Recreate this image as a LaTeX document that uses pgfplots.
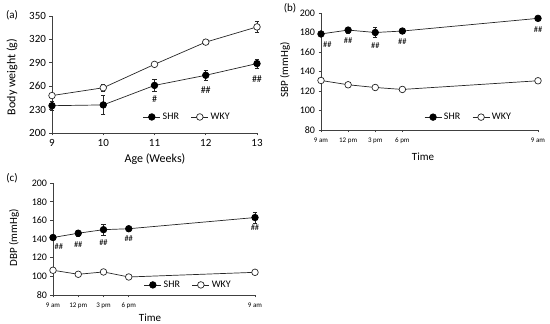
\documentclass[border=0pt]{standalone}
\usepackage{pgfplots}
\pgfplotsset{compat=1.18}
\usepackage{fontspec}
\setmainfont{Carlito}
\pgfplotsset{
  common/.style={
    scale only axis,
    axis x line*=bottom, axis y line*=left,
    axis line style={black!75, line width=0.6pt},
    tick style={black!75, line width=0.6pt},
    tick align=outside, major tick length=2.5pt,
    /pgf/number format/assume math mode=true,
    clip=false,
    every axis plot/.append style={line width=0.7pt, black!85},
    error bars/error bar style={line width=0.6pt, black!85},
    error bars/error mark options={rotate=90, mark size=2.2pt, line width=0.6pt},
    legend style={draw=none, fill=none, anchor=center, font=\fontsize{10}{11}\selectfont,
      /tikz/every even column/.append style={column sep=10pt}},
    legend columns=2,
  },
  shr/.style={mark=*, mark size=3.3pt, mark options={fill=black, draw=black}},
  wky/.style={mark=*, mark size=3.3pt, mark options={fill=white, draw=black!85}},
}
\begin{document}
\begin{tikzpicture}
\useasboundingbox (0pt,0pt) rectangle (550pt,324pt);
% (a)
\begin{axis}[common, anchor=south west, at={(52pt,191pt)}, width=205pt, height=117pt,
  xmin=9, xmax=13, ymin=200, ymax=350,
  xtick={9,10,11,12,13}, ytick={200,230,260,290,320,350},
  tick label style={font=\fontsize{11}{12}\selectfont},
  legend style={at={(0.66,0.137)}}]
\addplot[shr, error bars/.cd, y dir=both, y explicit] coordinates {
 (9,235) +- (0,6) (10,236) +- (0,12) (11,261) +- (0,8) (12,274) +- (0,6) (13,289) +- (0,6)};
\addplot[wky, error bars/.cd, y dir=both, y explicit] coordinates {
 (9,248) +- (0,2) (10,258) +- (0,4) (11,288) +- (0,2) (12,316.5) +- (0,3) (13,336) +- (0,7)};
\legend{SHR, WKY}
\node[font=\fontsize{10}{11}\selectfont] at (axis cs:11,243) {\#};
\node[font=\fontsize{10}{11}\selectfont] at (axis cs:12,255) {\#\#};
\node[font=\fontsize{10}{11}\selectfont] at (axis cs:13,269) {\#\#};
\end{axis}
% (b)
\begin{axis}[common, anchor=south west, at={(321pt,194pt)}, width=217pt, height=117pt,
  xmin=0, xmax=24, ymin=80, ymax=200,
  xtick={0,3,6,9,24}, xticklabels={9 am,12 pm,3 pm,6 pm,9 am},
  ytick={80,100,...,200},
  yticklabel style={font=\fontsize{10}{11}\selectfont},
  xticklabel style={font=\fontsize{7}{8}\selectfont, yshift=-2pt},
  legend style={at={(0.68,0.11)}}]
\addplot[shr, error bars/.cd, y dir=both, y explicit] coordinates {
 (0,178.5) +- (0,2) (3,182.5) +- (0,3) (6,180) +- (0,5) (9,181.5) +- (0,2) (24,194.5) +- (0,2)};
\addplot[wky, error bars/.cd, y dir=both, y explicit] coordinates {
 (0,130.8) +- (0,2) (3,126.4) +- (0,1.5) (6,123.6) +- (0,1.5) (9,121.6) +- (0,1.5) (24,130.5) +- (0,2)};
\legend{SHR, WKY}
\node[font=\fontsize{8.5}{9}\selectfont] at (axis cs:0.7,168) {\#\#};
\node[font=\fontsize{8.5}{9}\selectfont] at (axis cs:3,171.5) {\#\#};
\node[font=\fontsize{8.5}{9}\selectfont] at (axis cs:6,167) {\#\#};
\node[font=\fontsize{8.5}{9}\selectfont] at (axis cs:9,170.5) {\#\#};
\node[font=\fontsize{8.5}{9}\selectfont] at (axis cs:24,183) {\#\#};
\end{axis}
% (c)
\begin{axis}[common, anchor=south west, at={(53pt,29pt)}, width=202pt, height=112pt,
  xmin=0, xmax=24, ymin=80, ymax=200,
  xtick={0,3,6,9,24}, xticklabels={9 am,12 pm,3 pm,6 pm,9 am},
  ytick={80,100,...,200},
  yticklabel style={font=\fontsize{10}{11}\selectfont},
  xticklabel style={font=\fontsize{7}{8}\selectfont, yshift=-2pt},
  legend style={at={(0.67,0.09)}}]
\addplot[shr, error bars/.cd, y dir=both, y explicit] coordinates {
 (0,141.6) +- (0,2) (3,146.2) +- (0,3) (6,150) +- (0,6) (9,151) +- (0,2) (24,163) +- (0,6)};
\addplot[wky, error bars/.cd, y dir=both, y explicit] coordinates {
 (0,106.5) +- (0,1.5) (3,102.2) +- (0,1.5) (6,104.7) +- (0,1.5) (9,99.3) +- (0,1.5) (24,104.3) +- (0,1.5)};
\legend{SHR, WKY}
\node[font=\fontsize{8.5}{9}\selectfont] at (axis cs:0.7,131.5) {\#\#};
\node[font=\fontsize{8.5}{9}\selectfont] at (axis cs:3,133.5) {\#\#};
\node[font=\fontsize{8.5}{9}\selectfont] at (axis cs:6,136.5) {\#\#};
\node[font=\fontsize{8.5}{9}\selectfont] at (axis cs:9,140.5) {\#\#};
\node[font=\fontsize{8.5}{9}\selectfont] at (axis cs:24,152) {\#\#};
\end{axis}
% panel letters and axis labels
\node[font=\fontsize{11}{12}\selectfont] at (12pt,309pt) {(a)};
\node[font=\fontsize{11}{12}\selectfont] at (290pt,316pt) {(b)};
\node[font=\fontsize{11}{12}\selectfont] at (12pt,146pt) {(c)};
\node[font=\fontsize{12}{13}\selectfont, rotate=90] at (12pt,247pt) {Body weight (g)};
\node[font=\fontsize{11}{12}\selectfont, rotate=90] at (285pt,254pt) {SBP (mmHg)};
\node[font=\fontsize{11}{12}\selectfont, rotate=90] at (14pt,86pt) {DBP (mmHg)};
\node[font=\fontsize{12}{13}\selectfont] at (155pt,165pt) {Age (Weeks)};
\node[font=\fontsize{11}{12}\selectfont] at (423pt,167pt) {Time};
\node[font=\fontsize{11}{12}\selectfont] at (150pt,6pt) {Time};
\end{tikzpicture}
\end{document}
